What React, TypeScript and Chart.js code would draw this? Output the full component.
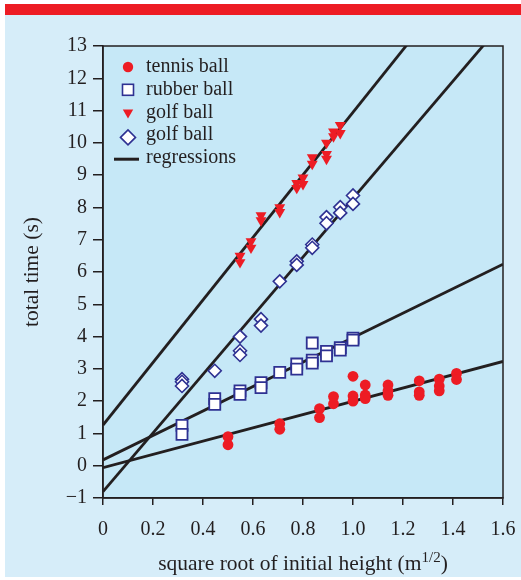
import React, { useEffect, useRef } from 'react';
import { Chart, registerables } from 'chart.js';

Chart.register(...registerables);

// ---------- data ----------
const xTickLabels = ['0', '0.2', '0.4', '0.6', '0.8', '1.0', '1.2', '1.4', '1.6'];
const yTickLabels = ['−1', '0', '1', '2', '3', '4', '5', '6', '7', '8', '9', '10', '11', '12', '13'];

const tennisX = [0.5, 0.5, 0.707, 0.707, 0.866, 0.866, 0.922, 0.922, 1.0, 1.0, 1.0, 1.049, 1.049, 1.049, 1.14, 1.14, 1.14, 1.265, 1.265, 1.265, 1.345, 1.345, 1.345, 1.414, 1.414];
const tennisY = [0.9, 0.65, 1.3, 1.13, 1.77, 1.49, 2.14, 1.92, 2.77, 2.16, 2.0, 2.5, 2.19, 2.08, 2.5, 2.32, 2.18, 2.63, 2.29, 2.18, 2.68, 2.47, 2.32, 2.86, 2.67];

const rubberX = [0.316, 0.316, 0.447, 0.447, 0.548, 0.548, 0.632, 0.632, 0.707, 0.775, 0.775, 0.837, 0.837, 0.837, 0.894, 0.894, 0.949, 0.949, 1.0, 1.0];
const rubberY = [1.25, 0.97, 2.08, 1.9, 2.32, 2.21, 2.57, 2.42, 2.89, 3.15, 2.99, 3.8, 3.27, 3.18, 3.54, 3.4, 3.66, 3.58, 3.95, 3.89];

const golfTriX = [0.548, 0.548, 0.592, 0.592, 0.632, 0.632, 0.707, 0.707, 0.775, 0.775, 0.8, 0.8, 0.837, 0.837, 0.894, 0.894, 0.894, 0.922, 0.922, 0.949, 0.949];
const golfTriY = [6.5, 6.3, 6.95, 6.75, 7.75, 7.6, 8.0, 7.85, 8.75, 8.6, 8.92, 8.72, 9.55, 9.35, 10.0, 9.65, 9.5, 10.35, 10.2, 10.55, 10.3];

const golfDiaX = [0.316, 0.316, 0.316, 0.447, 0.548, 0.548, 0.548, 0.632, 0.632, 0.707, 0.775, 0.775, 0.837, 0.837, 0.894, 0.894, 0.949, 0.949, 1.0, 1.0];
const golfDiaY = [2.68, 2.6, 2.47, 2.94, 4.0, 3.56, 3.43, 4.54, 4.34, 5.71, 6.33, 6.22, 6.85, 6.75, 7.7, 7.51, 8.01, 7.83, 8.37, 8.11];

// regression lines: y at x = 0 and x = 1.6
const fitX = [0, 1.6];
const tennisFit = [-0.06, 3.23];
const rubberFit = [0.18, 6.24];
const golfTriFit = [1.26, 16.76];
const golfDiaFit = [-0.8, 13.73];

const legendLabels = ['tennis ball', 'rubber ball', 'golf ball', 'golf ball', 'regressions'];

// ---------- styles ----------
const RED = '#ed1c24';
const BLUE = '#2e3192';
const INK = '#231f20';
const PANEL = '#d6edf9';
const PLOT = '#c6e8f7';
const FONT = "'Liberation Serif', 'Times New Roman', serif";

const zip = (xs: number[], ys: number[]) => xs.map((x, i) => ({ x, y: ys[i] }));

const framePlugin = {
  id: 'frameAndLegend',
  beforeDraw(chart: any) {
    const { ctx, chartArea: a } = chart;
    ctx.save();
    ctx.fillStyle = PLOT;
    ctx.fillRect(a.left, a.top, a.width, a.height);
    ctx.restore();
  },
  afterDraw(chart: any) {
    const { ctx, chartArea: a } = chart;
    ctx.save();
    ctx.strokeStyle = INK;
    ctx.lineWidth = 1.5;
    ctx.strokeRect(a.left, a.top, a.width, a.height);

    // legend
    const mx = a.left + 25;
    const tx = a.left + 43;
    const base0 = a.top + 26;
    const step = 22.8;
    ctx.font = `20px ${FONT}`;
    ctx.textAlign = 'left';
    ctx.textBaseline = 'alphabetic';
    legendLabels.forEach((lab, i) => {
      const by = base0 + step * i;
      const cy = by - 5;
      ctx.fillStyle = INK;
      ctx.fillText(lab, tx, by);
      if (i === 0) {
        ctx.fillStyle = RED;
        ctx.beginPath();
        ctx.arc(mx, cy, 5.2, 0, Math.PI * 2);
        ctx.fill();
      } else if (i === 1) {
        ctx.fillStyle = '#ffffff';
        ctx.strokeStyle = BLUE;
        ctx.lineWidth = 1.6;
        ctx.fillRect(mx - 5.5, cy - 5.5, 11, 11);
        ctx.strokeRect(mx - 5.5, cy - 5.5, 11, 11);
      } else if (i === 2) {
        ctx.fillStyle = RED;
        const r = 6;
        ctx.beginPath();
        ctx.moveTo(mx - r * 0.866, cy - r * 0.5);
        ctx.lineTo(mx + r * 0.866, cy - r * 0.5);
        ctx.lineTo(mx, cy + r);
        ctx.closePath();
        ctx.fill();
      } else if (i === 3) {
        const r = 7.5;
        const c = cy + 2;
        ctx.fillStyle = '#ffffff';
        ctx.strokeStyle = BLUE;
        ctx.lineWidth = 1.6;
        ctx.beginPath();
        ctx.moveTo(mx - r, c);
        ctx.lineTo(mx, c - r);
        ctx.lineTo(mx + r, c);
        ctx.lineTo(mx, c + r);
        ctx.closePath();
        ctx.fill();
        ctx.stroke();
      } else {
        ctx.strokeStyle = INK;
        ctx.lineWidth = 3;
        ctx.beginPath();
        ctx.moveTo(mx - 14, cy + 1);
        ctx.lineTo(mx + 11, cy + 1);
        ctx.stroke();
      }
    });
    ctx.restore();
  },
};

export default function App() {
  const ref = useRef<HTMLCanvasElement>(null);

  useEffect(() => {
    const lineDs = (data: number[]) => ({
      type: 'line' as const,
      data: zip(fitX, data),
      borderColor: INK,
      borderWidth: 2.8,
      pointRadius: 0,
      fill: false,
      order: 10,
    });
    const chart = new Chart(ref.current!, {
      type: 'scatter',
      data: {
        datasets: [
          {
            label: legendLabels[0],
            data: zip(tennisX, tennisY),
            pointStyle: 'circle',
            pointRadius: 5.4,
            backgroundColor: RED,
            borderColor: RED,
            borderWidth: 0,
            order: 1,
          },
          {
            label: legendLabels[1],
            data: zip(rubberX, rubberY),
            pointStyle: 'rect',
            pointRadius: 7.8,
            backgroundColor: '#ffffff',
            borderColor: BLUE,
            borderWidth: 1.8,
            order: 1,
          },
          {
            label: legendLabels[2],
            data: zip(golfTriX, golfTriY),
            pointStyle: 'triangle',
            rotation: 180,
            pointRadius: 6.3,
            backgroundColor: RED,
            borderColor: RED,
            borderWidth: 0,
            order: 1,
          },
          {
            label: legendLabels[3],
            data: zip(golfDiaX, golfDiaY),
            pointStyle: 'rectRot',
            pointRadius: 6.5,
            backgroundColor: '#ffffff',
            borderColor: BLUE,
            borderWidth: 1.6,
            order: 1,
          },
          { label: 'fit tennis', ...lineDs(tennisFit) } as any,
          { label: 'fit rubber', ...lineDs(rubberFit) } as any,
          { label: 'fit golf', ...lineDs(golfTriFit) } as any,
          { label: 'fit golf 2', ...lineDs(golfDiaFit) } as any,
        ],
      },
      options: {
        responsive: false,
        animation: false,
        devicePixelRatio: 1,
        layout: { padding: { left: 0, right: 18, top: 46, bottom: 0 } },
        plugins: { legend: { display: false }, tooltip: { enabled: false } },
        scales: {
          x: {
            type: 'linear',
            min: 0,
            max: 1.6,
            afterFit: (s: any) => {
              s.height = 82;
              s.paddingLeft = 0;
              s.paddingRight = 0;
            },
            afterBuildTicks: (s: any) => {
              s.ticks = xTickLabels.map((_, i) => ({ value: Number((i * 0.2).toFixed(1)) }));
            },
            ticks: {
              autoSkip: false,
              maxRotation: 0,
              padding: 13,
              color: INK,
              font: { family: FONT, size: 20 },
              callback: (_v: any, i: number) => xTickLabels[i],
            },
            grid: { drawOnChartArea: false, drawTicks: true, tickLength: 7, color: INK, lineWidth: 1.5 },
            border: { display: true, color: INK, width: 1.5 },
          },
          y: {
            type: 'linear',
            min: -1,
            max: 13,
            afterFit: (s: any) => {
              s.width = 103;
              s.paddingTop = 0;
              s.paddingBottom = 0;
            },
            afterBuildTicks: (s: any) => {
              s.ticks = yTickLabels.map((_, i) => ({ value: i - 1 }));
            },
            ticks: {
              autoSkip: false,
              padding: 6,
              color: INK,
              font: { family: FONT, size: 20 },
              callback: (_v: any, i: number) => yTickLabels[i],
            },
            title: {
              display: true,
              text: 'total time (s)',
              color: INK,
              font: { family: FONT, size: 21.5 },
              padding: { top: 19, bottom: 0 },
            },
            grid: { drawOnChartArea: false, drawTicks: true, tickLength: 10, color: INK, lineWidth: 1.5 },
            border: { display: true, color: INK, width: 1.5 },
          },
        },
      },
      plugins: [framePlugin],
    });
    return () => chart.destroy();
  }, []);

  return (
    <div style={{ position: 'fixed', left: 0, top: 0, width: 521, height: 580, background: '#ffffff', overflow: 'hidden' }}>
      <div style={{ position: 'absolute', left: 5, top: 4, width: 516, height: 11, background: RED }} />
      <div style={{ position: 'absolute', left: 5, top: 15, width: 516, height: 562, background: PANEL }} />
      <canvas ref={ref} width={521} height={580} style={{ position: 'absolute', left: 0, top: 0, width: 521, height: 580 }} />
      <div
        style={{
          position: 'absolute',
          left: 103,
          top: 550,
          width: 400,
          textAlign: 'center',
          fontFamily: FONT,
          fontSize: 21.5,
          lineHeight: '26px',
          color: INK,
          whiteSpace: 'nowrap',
        }}
      >
        square root of initial height (m
        <span style={{ position: 'relative', top: '-0.5em', fontSize: '0.7em' }}>1/2</span>)
      </div>
    </div>
  );
}
